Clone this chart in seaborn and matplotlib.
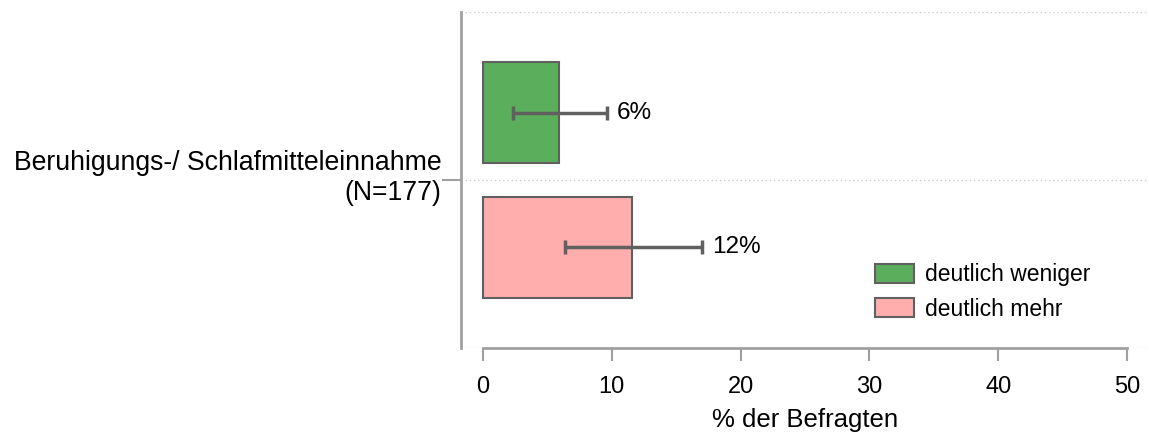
import numpy as np
import pandas as pd
import matplotlib
matplotlib.use("Agg")
import matplotlib.pyplot as plt
import matplotlib.transforms as mtrans
import seaborn as sb

categories = ["Beruhigungs-/ Schlafmitteleinnahme\n(N=177)"]
groups = ["deutlich weniger", "deutlich mehr"]
values = [5.9, 11.6]
ci_low = [2.3, 6.4]
ci_high = [9.6, 17.0]
labels = ["6%", "12%"]
colors = ["#5bae5b", "#ffadad"]

df = pd.DataFrame({"item": categories * 2, "group": groups, "value": values})

sb.set_style("white")
plt.rcParams["font.family"] = ["Liberation Sans", "DejaVu Sans"]
plt.rcParams["text.color"] = "black"

fig = plt.figure(figsize=(11.49, 4.34), dpi=100)
ax = fig.add_axes([461/1149, 1-348/434, 1-461/1149, (348-12)/434])

sb.barplot(data=df, y="item", x="value", hue="group", hue_order=groups,
           palette=colors, saturation=1, orient="h", errorbar=None, gap=0.25,
           edgecolor="#606060", linewidth=1.5, ax=ax)

bars = [p for p in ax.patches if p.get_height() > 0][:2]
for i, p in enumerate(bars):
    yc = p.get_y() + p.get_height() / 2
    v = values[i]
    ax.errorbar(v, yc, xerr=[[v - ci_low[i]], [ci_high[i] - v]], fmt="none",
                ecolor="#606060", elinewidth=2.5, capsize=5, capthick=2.5)
    ax.text(ci_high[i] + 0.8, yc, labels[i], va="center", ha="left", fontsize=17.5,
            color="black")

ax.set_xlim(-1.7, 51.7)
ax.set_ylim(0.5, -0.5)
ax.set_xticks([0, 10, 20, 30, 40, 50])
for yy in [-0.5, 0, 0.5]:
    ax.axhline(yy, color="#cccccc", linestyle=(0, (1, 2)), linewidth=1, zorder=0)

for s in ["top", "right"]:
    ax.spines[s].set_visible(False)
ax.spines["left"].set_color("#a0a0a0")
ax.spines["left"].set_linewidth(2)
ax.spines["bottom"].set_color("#a0a0a0")
ax.spines["bottom"].set_linewidth(2)
ax.spines["bottom"].set_bounds(0, 50)
ax.tick_params(axis="x", colors="#a0a0a0", labelcolor="black", labelsize=17,
               length=9, width=1.5, bottom=True, pad=11)
ax.tick_params(axis="y", colors="#a0a0a0", labelcolor="black", labelsize=19.2,
               length=14, width=1.5, left=True, pad=0)
ax.set_xlabel("% der Befragten", fontsize=18.5, labelpad=7, color="black")
ax.set_ylabel("")
for t in ax.get_yticklabels():
    t.set_ha("right")
    t.set_multialignment("right")
    t.set_transform(t.get_transform() + mtrans.ScaledTranslation(0, 7/100, fig.dpi_scale_trans))

leg = ax.legend(loc="lower right", bbox_to_anchor=(0.945, 0.02), frameon=False, fontsize=16.5,
                handlelength=1.7, handleheight=0.87, labelspacing=0.5, handletextpad=0.5)
for t in leg.get_texts():
    t.set_color("black")

plt.savefig("out.png", dpi=100)
